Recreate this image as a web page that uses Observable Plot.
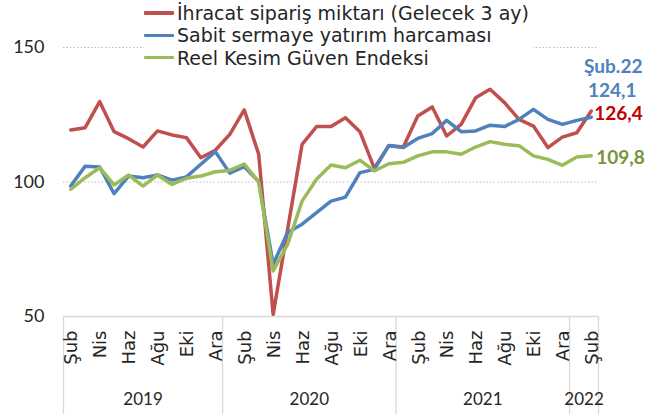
<!DOCTYPE html>
<html>
<head>
<meta charset="utf-8">
<script src="https://cdn.jsdelivr.net/npm/d3@7"></script>
<script src="https://cdn.jsdelivr.net/npm/@observablehq/plot@0.6"></script>
<style>
  body { margin: 0; background: #fff; font-family: "DejaVu Sans", sans-serif; }
  #wrap { position: relative; width: 662px; height: 414px; }
  #legend { position: absolute; left: 144px; top: 2px; background: #fff; padding-right: 4px; }
  .row { display: flex; align-items: center; height: 22.3px; font-size: 19px; color: #262626; white-space: nowrap; font-family: "DejaVu Sans", sans-serif; }
  .sw { width: 30px; height: 3.5px; margin-right: 3px; border-radius: 1px; }
</style>
</head>
<body>
<div id="wrap"><div id="chart"></div><div id="legend"></div></div>
<script>
// Month labels, Şub 2019 .. Şub 2022
const monthLabels = ["Şub","Mar","Nis","May","Haz","Tem","Ağu","Eyl","Eki","Kas","Ara",
  "Oca","Şub","Mar","Nis","May","Haz","Tem","Ağu","Eyl","Eki","Kas","Ara",
  "Oca","Şub","Mar","Nis","May","Haz","Tem","Ağu","Eyl","Eki","Kas","Ara",
  "Oca","Şub"];
const years = ["2019","2020","2021","2022"];
const monthsPerYear = [11, 12, 12, 2];
const yTicks = [50, 100, 150];
const lastLabel = "Şub.22";

const seriesNames = ["İhracat sipariş miktarı (Gelecek 3 ay)", "Sabit sermaye yatırım harcaması", "Reel Kesim Güven Endeksi"];
const seriesColors = ["#C0504D", "#4F81BD", "#9BBB59"];
const labelColors = ["#C00000", "#4F81BD", "#77933C"];

const ihracat = [119.3,120.2,129.9,118.7,116.1,113.0,119.0,117.5,116.5,109.0,111.8,
  117.7,126.8,110.3,50.8,82.4,114.0,120.6,120.6,123.9,118.7,105.1,113.6,
  113.0,124.5,127.9,117.1,121.4,131.3,134.5,129.5,123.3,120.8,112.8,116.7,
  118.3,126.4];
const sabit = [98.5,105.9,105.6,95.7,102.2,101.6,102.6,100.7,101.9,106.6,111.3,
  103.3,105.7,100.2,69.4,81.2,84.3,88.6,92.9,94.4,103.5,104.7,113.5,
  112.8,116.2,118.0,122.9,118.7,119.0,121.1,120.6,123.3,127.0,123.3,121.4,
  122.9,124.1];
const reel = [97.3,101.6,105.3,98.9,102.6,98.5,102.6,99.1,101.4,102.2,103.8,
  104.3,106.7,100.0,66.9,76.8,92.9,101.0,106.3,105.3,108.1,104.1,106.8,
  107.3,109.7,111.2,111.2,110.3,113.0,115.0,114.0,113.5,109.7,108.4,106.2,
  109.3,109.8];

const seriesValues = [ihracat, sabit, reel];
const data = [];
seriesValues.forEach((vals, s) => vals.forEach((v, i) => data.push({i, v, name: seriesNames[s]})));
const n = monthLabels.length;
const tickIdx = d3.range(0, n, 2);

// year groups
let start = 0;
const yearGroups = years.map((y, k) => {
  const g = {year: y, lo: start - 0.5, hi: start + monthsPerYear[k] - 0.5};
  start += monthsPerYear[k];
  return g;
});
const bounds = [yearGroups[0].lo, ...yearGroups.map(g => g.hi)];

const fmt = v => v.toFixed(1).replace(".", ",");
const last = n - 1;
const endLabels = [
  {x: last, y: ihracat[last], text: fmt(ihracat[last]), color: labelColors[0], dx: 3, dy: 2.5, anchor: "start"},
  {x: last, y: reel[last], text: fmt(reel[last]), color: labelColors[2], dx: 5, dy: 2, anchor: "start"},
  {x: last, y: sabit[last], text: fmt(sabit[last]), color: labelColors[1], dx: 21, dy: -26, anchor: "middle"},
  {x: last, y: sabit[last], text: lastLabel, color: labelColors[1], dx: 22, dy: -50, anchor: "middle"}
];

const numFont = "Lato, 'Open Sans', sans-serif";
const chart = Plot.plot({
  width: 662,
  height: 414,
  marginLeft: 63,
  marginRight: 64,
  marginTop: 47,
  marginBottom: 98,
  style: {fontFamily: "'DejaVu Sans', sans-serif", color: "#262626", background: "#fff", overflow: "visible"},
  x: {type: "linear", domain: [-0.5, n - 0.5], axis: null},
  y: {domain: [50, 150], axis: null},
  color: {domain: seriesNames, range: seriesColors},
  marks: [
    Plot.ruleY(yTicks.filter(t => t > 50), {stroke: "#bdbdbd", strokeDasharray: "1.5,2", strokeWidth: 1}),
    Plot.ruleY([50], {stroke: "#d9d9d9", strokeWidth: 1.3}),
    Plot.text(yTicks, {y: d => d, text: d => String(d), frameAnchor: "left", textAnchor: "end", dx: -19, fontSize: 18, fontFamily: numFont, fill: "#262626"}),
    Plot.ruleX(bounds, {x: d => d, stroke: "#d9d9d9", strokeWidth: 1.3, insetTop: 269, insetBottom: -98}),
    Plot.text(tickIdx, {x: d => d, text: d => monthLabels[d], frameAnchor: "bottom", rotate: -90, textAnchor: "end", lineAnchor: "middle", dy: 14, dx: 1, fontSize: 18, fill: "#262626"}),
    Plot.text(yearGroups, {x: g => (g.lo + g.hi) / 2, text: "year", frameAnchor: "bottom", dy: 88, fontSize: 17, fontFamily: numFont, fill: "#262626"}),
    Plot.line(data, {x: "i", y: "v", stroke: "name", z: "name", strokeWidth: 3.5, strokeLinejoin: "round", strokeLinecap: "round"}),
    Plot.text(endLabels, {x: "x", y: "y", text: "text", fill: d => d.color, textAnchor: "start", fontSize: 19, fontFamily: numFont, fontWeight: "bold"})
  ]
});
document.getElementById("chart").append(chart);

// per-label offsets
d3.select(chart).selectAll("text").each(function() {
  const t = this.textContent;
  const lab = endLabels.find(l => l.text === t);
  if (lab) {
    const tr = this.getAttribute("transform") || "";
    this.setAttribute("transform", tr + ` translate(${lab.dx},${lab.dy})`);
    this.setAttribute("text-anchor", lab.anchor);
    this.setAttribute("fill", lab.color);
  }
});

const legend = document.getElementById("legend");
seriesNames.forEach((name, k) => {
  const row = document.createElement("div");
  row.className = "row";
  const sw = document.createElement("div");
  sw.className = "sw";
  sw.style.background = seriesColors[k];
  const tx = document.createElement("span");
  tx.textContent = name;
  row.append(sw, tx);
  legend.append(row);
});
</script>
</body>
</html>
